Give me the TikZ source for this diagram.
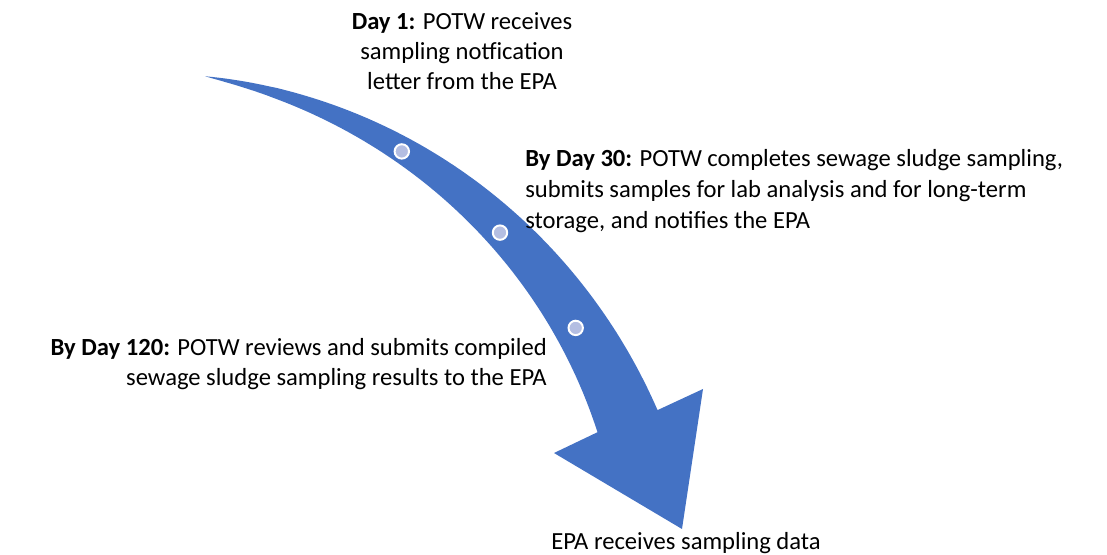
\documentclass[tikz,border=0pt]{standalone}
\usepackage{fontspec}
\setmainfont{Carlito}
\definecolor{arrowblue}{RGB}{68,114,196}
\definecolor{dotfill}{RGB}{180,190,226}

\begin{document}
\begin{tikzpicture}[x=0.025cm, y=0.025cm, font=\fontsize{17.5}{21.3}\selectfont,
  dot/.style={circle, fill=dotfill, draw=white, line width=1.4pt, inner sep=0pt, minimum size=0.36cm},
  note/.style={inner sep=0pt}]
\useasboundingbox (0,0) rectangle (1107,554);

%========================
% curved arrow (bend centre at (117,-55))
%========================
\begin{scope}[shift={(117,-55)}]
% outer edge, head, inner edge
\fill[arrowblue] (80.6:540)
  -- plot[domain=80.5:20.2, samples=90] (\x:{540+36*((80.6-\x)/60.4)^0.97})
  -- (586,220) -- (565,80) -- (437,156)
  -- plot[domain=20.2:80.5, samples=90] (\x:{540-28*((80.6-\x)/60.4)^0.8})
  -- cycle;

% milestones on the arrow
\node[dot] (d1) at (58.1:539) {};
\node[dot] (d2) at (44.5:537) {};
\node[dot] (d3) at (31.5:538) {};
\end{scope}

%========================
% labels
%========================
\node[note, align=center] (day1) at (462,503)
  {\textbf{Day 1:} POTW receives\\ sampling notfication\\ letter from the EPA};
\node[note, align=left, anchor=west, font=\fontsize{17.5}{22.3}\selectfont] (day30) at (525,363)
  {\textbf{By Day 30:} POTW completes sewage sludge sampling,\\ submits samples for lab analysis and for long-term\\ storage, and notifies the EPA};
\node[note, align=right, anchor=east] (day120) at (547,190)
  {\textbf{By Day 120:} POTW reviews and submits compiled\\ sewage sludge sampling results to the EPA};
\node[note, anchor=base west] (epa) at (551,5) {EPA receives sampling data};
\end{tikzpicture}
\end{document}
